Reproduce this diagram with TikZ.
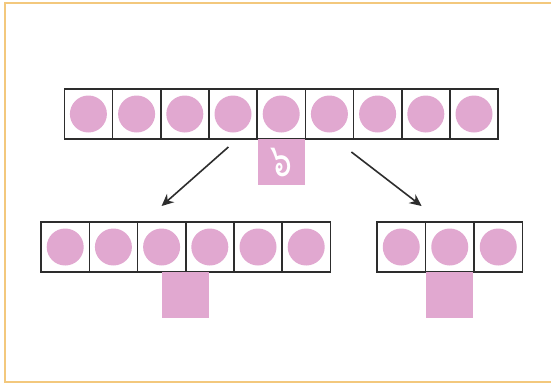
\documentclass[tikz,border=0pt]{standalone}
\usepackage{fontspec}
\newfontfamily\thaifont[Script=Thai]{Loma}
\usetikzlibrary{arrows.meta,calc}
\definecolor{pinkfill}{RGB}{225,168,208}
\definecolor{framecol}{RGB}{243,200,125}
\definecolor{linecol}{RGB}{45,45,45}
\tikzset{
  cellbox/.style={draw=linecol,line width=1.6pt,fill=white,minimum width=48.2pt,minimum height=50pt,inner sep=0pt,outer sep=0pt},
  ball/.style={circle,fill=pinkfill,minimum size=37pt,inner sep=0pt},
  pivbox/.style={fill=pinkfill,minimum width=47pt,minimum height=46pt,inner sep=0pt,outer sep=0pt},
  arr/.style={draw=linecol,line width=1.6pt,-{Stealth[length=12pt,width=11pt]}}
}
\begin{document}
\begin{tikzpicture}[x=1pt,y=-1pt]
\useasboundingbox (0,0) rectangle (551,384);
\fill[white] (0,0) rectangle (551,384);
\draw[framecol,line width=2pt] (555,3) -- (5,3) -- (5,382) -- (555,382);
% top row
\foreach \i in {1,...,9} {
  \node[cellbox] (t\i) at ({64.3+48.2*(\i-0.5)},114) {};
  \node[ball] (tb\i) at (t\i) {};
}
\node[pivbox,anchor=north] (tp) at (t5.south) {\color{white}\scalebox{0.75}[1]{\thaifont\fontsize{46}{46}\selectfont ๖}};
% left row
\foreach \i in {1,...,6} {
  \node[cellbox] (l\i) at ({41.1+48.2*(\i-0.5)},247) {};
  \node[ball] (lb\i) at (l\i) {};
}
\node[pivbox,anchor=north] (lp) at ($(l3.south)!0.5!(l4.south)$) {};
% right row
\foreach \i in {1,...,3} {
  \node[cellbox] (r\i) at ({377+48.5*(\i-0.5)},247) {};
  \node[ball] (rb\i) at (r\i) {};
}
\node[pivbox,anchor=north] (rp) at (r2.south) {};
\coordinate (las) at (228.4,147);
\coordinate (lae) at (161.6,206);
\coordinate (ras) at (351.4,152);
\coordinate (rae) at (421.6,206);
\draw[arr] (las) -- (lae);
\draw[arr] (ras) -- (rae);
\end{tikzpicture}
\end{document}
